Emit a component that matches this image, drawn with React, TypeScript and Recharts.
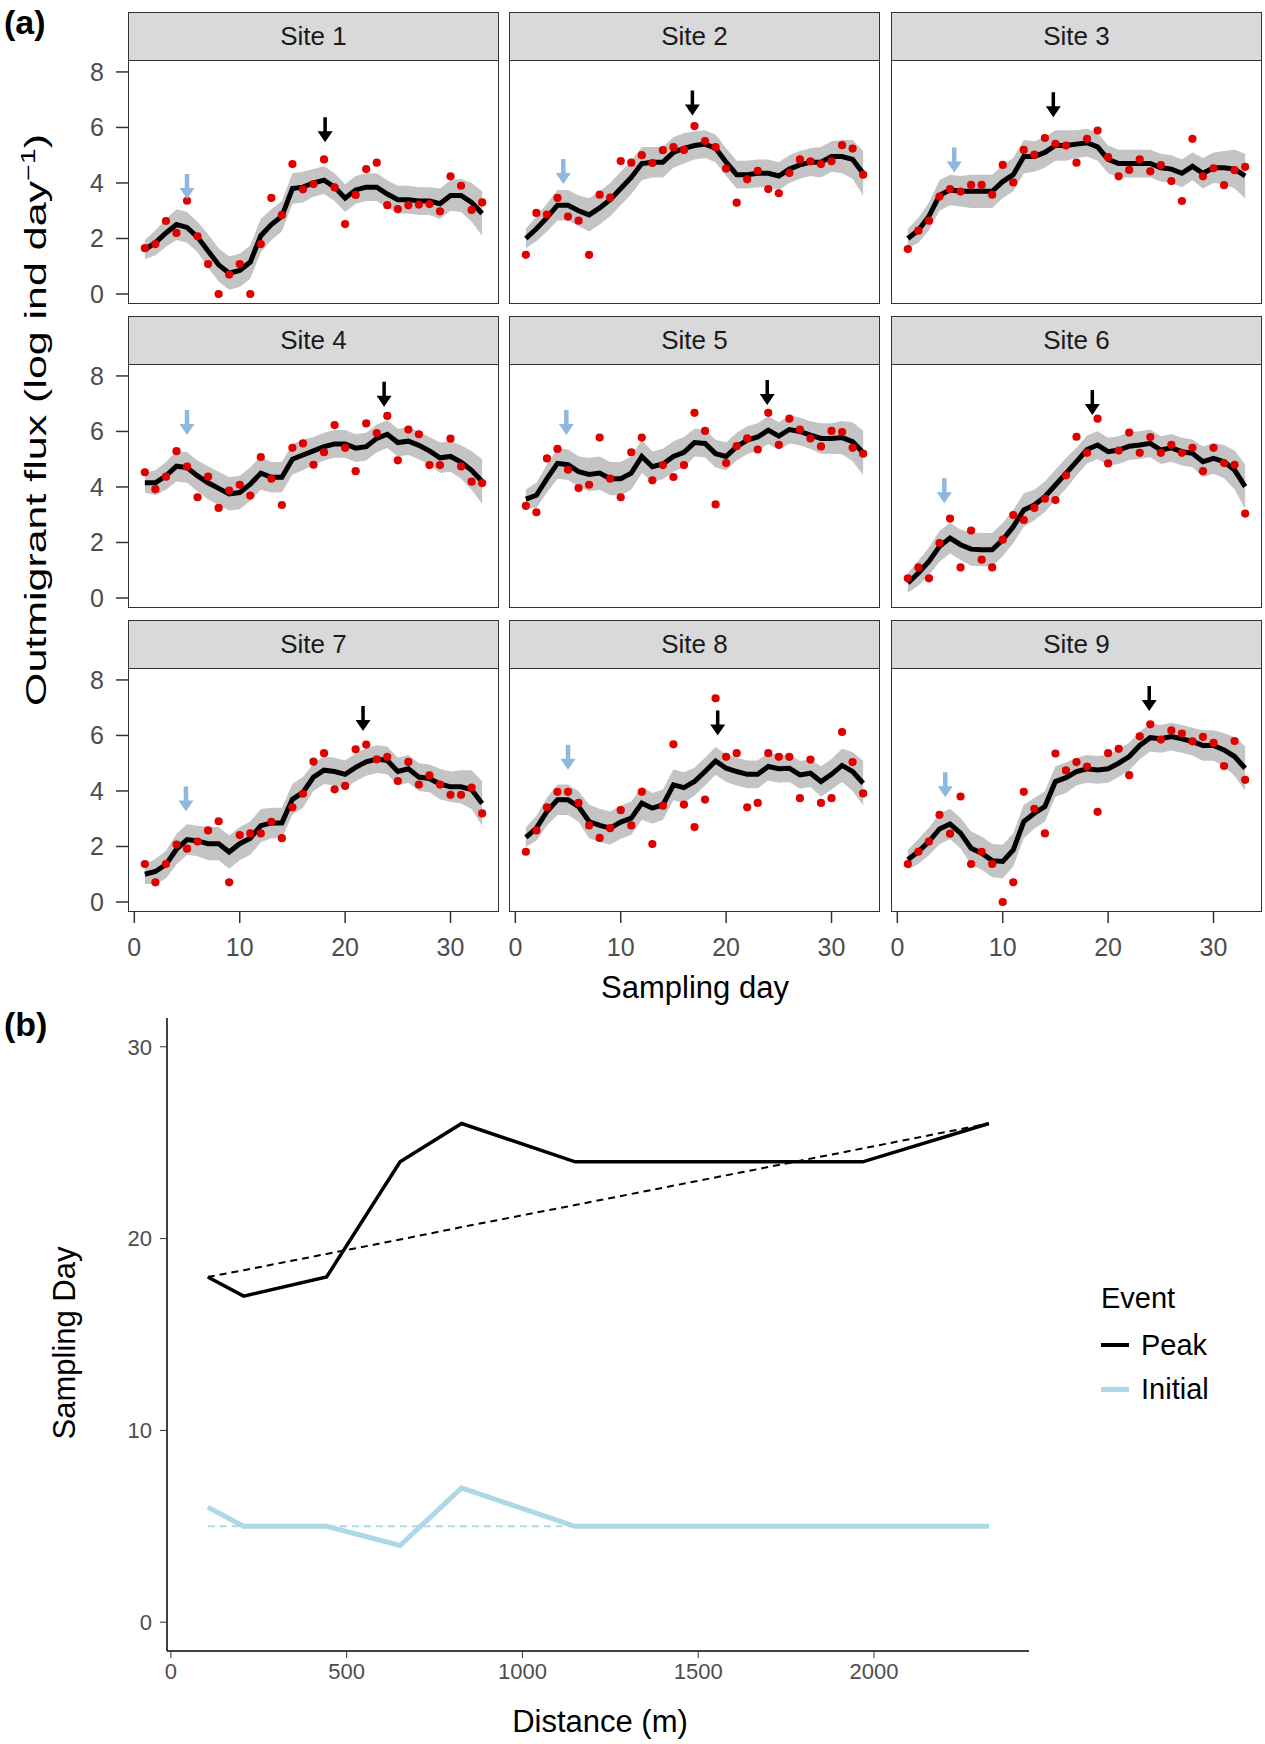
import React from 'react';
import { ComposedChart, LineChart, Area, Line, Scatter, XAxis, YAxis } from 'recharts';

const FONT = '"Liberation Sans", Arial, Helvetica, sans-serif';

// ---------- panel (a): outmigrant flux by site ----------
const days = [1, 2, 3, 4, 5, 6, 7, 8, 9, 10, 11, 12, 13, 14, 15, 16, 17, 18, 19, 20, 21, 22, 23, 24, 25, 26, 27, 28, 29, 30, 31, 32, 33];

// half width of the grey confidence band around the fitted line
const bandHalf = [0.35, 0.45, 0.5, 0.55, 0.55, 0.55, 0.6, 0.6, 0.6, 0.6, 0.6, 0.6, 0.55, 0.55, 0.55, 0.55, 0.5, 0.5, 0.5, 0.5, 0.5, 0.5, 0.5, 0.5, 0.5, 0.5, 0.5, 0.5, 0.55, 0.55, 0.6, 0.7, 0.8];

const siteNames = ['Site 1', 'Site 2', 'Site 3', 'Site 4', 'Site 5', 'Site 6', 'Site 7', 'Site 8', 'Site 9'];

const site1Obs = [1.65, 1.8, 2.63, 2.2, 3.36, 2.08, 1.08, 0, 0.7, 1.08, 0, 1.8, 3.46, 2.85, 4.68, 3.77, 3.96, 4.85, 3.84, 2.52, 3.57, 4.5, 4.73, 3.2, 3.06, 3.2, 3.22, 3.24, 2.98, 4.24, 3.9, 3.03, 3.3];
const site2Obs = [1.41, 2.92, 2.86, 3.46, 2.79, 2.64, 1.41, 3.58, 3.47, 4.79, 4.73, 5.0, 4.72, 5.18, 5.29, 5.19, 6.05, 5.51, 5.29, 4.52, 3.29, 4.13, 4.44, 3.78, 3.63, 4.36, 4.85, 4.78, 4.68, 4.78, 5.36, 5.24, 4.3];
const site3Obs = [1.62, 2.28, 2.64, 3.51, 3.78, 3.69, 3.93, 3.93, 3.58, 4.65, 4.02, 5.19, 5.02, 5.62, 5.41, 5.35, 4.73, 5.59, 5.89, 4.93, 4.24, 4.47, 4.85, 4.42, 4.64, 4.07, 3.35, 5.59, 4.24, 4.53, 3.92, 4.46, 4.58];
const site4Obs = [4.53, 3.92, 4.37, 5.29, 4.73, 3.63, 4.37, 3.25, 3.87, 4.08, 3.69, 5.08, 4.3, 3.35, 5.41, 5.57, 4.8, 5.25, 6.23, 5.41, 4.57, 6.29, 5.94, 6.56, 4.96, 6.07, 5.9, 4.79, 4.79, 5.74, 4.74, 4.19, 4.14];
const site5Obs = [3.32, 3.09, 5.03, 5.37, 4.62, 3.96, 4.08, 5.78, 4.3, 3.63, 5.25, 5.78, 4.24, 4.79, 4.36, 4.79, 6.67, 6.02, 3.37, 4.86, 5.47, 5.75, 5.35, 6.67, 5.52, 6.46, 6.07, 5.75, 5.46, 6.02, 5.98, 5.41, 5.2];
const site6Obs = [0.71, 1.1, 0.71, 1.98, 2.86, 1.1, 2.43, 1.38, 1.1, 2.1, 2.99, 2.81, 3.25, 3.58, 3.53, 4.42, 5.81, 5.23, 6.46, 4.85, 5.31, 5.96, 5.23, 5.8, 5.23, 5.52, 5.23, 5.41, 4.57, 5.41, 4.86, 4.8, 3.04];
const site7Obs = [1.37, 0.71, 1.37, 2.07, 1.92, 2.18, 2.58, 2.91, 0.71, 2.41, 2.47, 2.47, 2.89, 2.3, 3.41, 3.9, 5.06, 5.36, 4.06, 4.18, 5.5, 5.67, 5.14, 5.23, 4.36, 5.05, 4.23, 4.56, 4.23, 3.86, 3.86, 4.12, 3.19];
const site8Obs = [1.81, 2.58, 3.41, 3.97, 3.97, 3.57, 2.76, 2.31, 2.66, 3.31, 2.76, 3.97, 2.09, 3.47, 5.68, 3.51, 2.7, 3.69, 7.34, 5.23, 5.36, 3.41, 3.57, 5.36, 5.23, 5.23, 3.74, 5.13, 3.57, 3.74, 6.12, 5.04, 3.91];
const site9Obs = [1.37, 1.81, 2.18, 3.14, 2.46, 3.8, 1.37, 1.81, 1.37, 0.0, 0.71, 3.97, 3.36, 2.47, 5.35, 4.74, 5.04, 4.88, 3.25, 5.36, 5.52, 4.57, 5.97, 6.4, 5.85, 6.18, 6.07, 5.79, 5.95, 5.73, 4.9, 5.8, 4.4];

const site1Fit = [1.6, 1.85, 2.2, 2.5, 2.4, 2.05, 1.55, 1.05, 0.75, 0.85, 1.15, 2.1, 2.5, 2.8, 3.8, 3.85, 4.0, 4.1, 3.85, 3.45, 3.75, 3.85, 3.85, 3.6, 3.4, 3.4, 3.35, 3.35, 3.25, 3.55, 3.55, 3.3, 2.9];
const site2Fit = [2.0, 2.35, 2.75, 3.2, 3.2, 3.0, 2.85, 3.1, 3.4, 3.8, 4.2, 4.7, 4.75, 4.75, 5.1, 5.25, 5.35, 5.4, 5.25, 4.75, 4.3, 4.3, 4.35, 4.35, 4.25, 4.5, 4.65, 4.75, 4.75, 4.95, 4.95, 4.85, 4.35];
const site3Fit = [2.0, 2.3, 2.8, 3.55, 3.75, 3.7, 3.7, 3.7, 3.7, 4.05, 4.3, 4.95, 4.95, 5.1, 5.35, 5.35, 5.4, 5.45, 5.3, 4.85, 4.7, 4.7, 4.7, 4.7, 4.55, 4.5, 4.35, 4.6, 4.35, 4.55, 4.55, 4.5, 4.25];
const site4Fit = [4.15, 4.15, 4.4, 4.75, 4.7, 4.4, 4.15, 3.95, 3.75, 3.8, 4.1, 4.5, 4.35, 4.35, 5.0, 5.15, 5.3, 5.45, 5.55, 5.55, 5.4, 5.45, 5.75, 5.9, 5.6, 5.65, 5.5, 5.3, 5.05, 5.1, 4.9, 4.6, 4.2];
const site5Fit = [3.56, 3.7, 4.3, 4.85, 4.8, 4.55, 4.45, 4.5, 4.3, 4.3, 4.5, 5.1, 4.73, 4.83, 5.1, 5.25, 5.6, 5.57, 5.2, 5.1, 5.45, 5.69, 5.8, 6.05, 5.83, 6.07, 6.0, 5.87, 5.75, 5.75, 5.78, 5.63, 5.23];
const site6Fit = [0.54, 0.9, 1.32, 1.86, 2.16, 1.92, 1.76, 1.74, 1.74, 2.1, 2.57, 3.17, 3.35, 3.65, 4.07, 4.49, 4.91, 5.35, 5.51, 5.27, 5.33, 5.47, 5.51, 5.57, 5.33, 5.41, 5.27, 5.21, 4.91, 5.03, 4.91, 4.61, 4.01];
const site7Fit = [1.0, 1.1, 1.35, 1.9, 2.25, 2.2, 2.1, 2.1, 1.8, 2.1, 2.3, 2.75, 2.85, 2.85, 3.7, 3.95, 4.5, 4.75, 4.7, 4.6, 4.85, 5.05, 5.15, 5.1, 4.7, 4.8, 4.5, 4.45, 4.25, 4.15, 4.15, 4.05, 3.55];
const site8Fit = [2.33, 2.66, 3.26, 3.68, 3.68, 3.44, 2.9, 2.76, 2.66, 2.88, 3.02, 3.56, 3.38, 3.5, 4.22, 4.12, 4.34, 4.7, 5.08, 4.82, 4.7, 4.6, 4.6, 4.88, 4.8, 4.82, 4.58, 4.64, 4.34, 4.6, 4.92, 4.7, 4.28];
const site9Fit = [1.52, 1.82, 2.18, 2.63, 2.81, 2.48, 1.94, 1.76, 1.49, 1.46, 1.88, 2.9, 3.2, 3.44, 4.34, 4.48, 4.7, 4.8, 4.76, 4.8, 5.0, 5.24, 5.64, 5.92, 5.88, 5.96, 5.88, 5.78, 5.64, 5.64, 5.48, 5.24, 4.82];

const siteObs = [site1Obs, site2Obs, site3Obs, site4Obs, site5Obs, site6Obs, site7Obs, site8Obs, site9Obs];
const siteFit = [site1Fit, site2Fit, site3Fit, site4Fit, site5Fit, site6Fit, site7Fit, site8Fit, site9Fit];

// arrows: day and the flux value at the arrow tip
const initialArrowDay = [5.0, 4.55, 5.4, 5.0, 4.84, 4.46, 4.9, 5.0, 4.55];
const initialArrowTip = [3.42, 3.96, 4.38, 5.87, 5.87, 3.41, 3.26, 4.76, 3.77];
const peakArrowDay = [18.1, 16.8, 14.8, 23.7, 23.9, 18.5, 21.7, 19.2, 23.9];
const peakArrowTip = [5.47, 6.43, 6.37, 6.89, 6.95, 6.59, 6.16, 6.0, 6.88];

const fluxTicks = [0, 2, 4, 6, 8];
const dayTicks = [0, 10, 20, 30];

// ---------- panel (b): event timing vs distance ----------
const distance = [105, 207, 443, 652, 827, 1150, 1968, 2327];
const peakDay = [18, 17, 18, 24, 26, 24, 24, 26];
const initialDay = [6, 5, 5, 4, 7, 5, 5, 5];
const peakTrend = [18.0, 18.35, 19.2, 19.95, 20.6, 21.75, 24.7, 26.0];
const initialTrend = [5, 5, 5, 5, 5, 5, 5, 5];
const distTicks = [0, 500, 1000, 1500, 2000];
const sampTicks = [0, 10, 20, 30];

// layout of the facet grid
const PLOT_W = 371;
const PLOT_H = 244;
const STRIP_H = 48;
const Y_W = 60;
const X_H = 60;
const PAD = 14; // extra room above/below the plot so tick labels are not clipped
const COL_LEFT = [128, 509, 891];
const ROW_TOP = [12, 316, 620];

const RED = '#E00000';
const BLUE = '#8FB8E0';

const dot = (p: any) => (p.cx == null ? <g /> : <circle cx={p.cx} cy={p.cy} r={4.1} fill={RED} />);

const makeArrow = (color: string, shaft: number) => (p: any) => {
  const { cx, cy } = p;
  if (cx == null || cy == null) return <g />;
  const h = shaft / 2;
  const d = `M${cx - h},${cy - 25} L${cx + h},${cy - 25} L${cx + h},${cy - 11} L${cx + 7.5},${cy - 11} L${cx},${cy} L${cx - 7.5},${cy - 11} L${cx - h},${cy - 11} Z`;
  return <path d={d} fill={color} />;
};
const blueArrow = makeArrow(BLUE, 4.5);
const blackArrow = makeArrow('#000', 3.5);

function SitePanel({ idx }: { idx: number }) {
  const col = idx % 3;
  const row = Math.floor(idx / 3);
  const showY = col === 0;
  const showX = row === 2;
  const left = COL_LEFT[col];
  const top = ROW_TOP[row];

  const data = days.map((d, i) => ({
    day: d,
    fit: siteFit[idx][i],
    band: [siteFit[idx][i] - bandHalf[i], siteFit[idx][i] + bandHalf[i]],
  }));
  const obs = days.map((d, i) => ({ day: d, obs: siteObs[idx][i] }));
  const initArrow = [{ day: initialArrowDay[idx], tip: initialArrowTip[idx] }];
  const peakArrow = [{ day: peakArrowDay[idx], tip: peakArrowTip[idx] }];

  return (
    <>
      <div
        style={{
          position: 'absolute', left, top, width: PLOT_W, height: STRIP_H + 1,
          boxSizing: 'border-box', background: '#D9D9D9', border: '1.5px solid #333',
          display: 'flex', alignItems: 'center', justifyContent: 'center',
          fontSize: 26, color: '#1A1A1A',
        }}
      >
        {siteNames[idx]}
      </div>
      <div style={{ position: 'absolute', left: left - (showY ? Y_W : 0), top: top + STRIP_H - PAD }}>
        <ComposedChart
          width={PLOT_W + (showY ? Y_W : 0)}
          height={PLOT_H + 2 * PAD + (showX ? X_H : 0)}
          data={data}
          margin={{ top: PAD, right: 0, bottom: PAD, left: 0 }}
        >
          <XAxis
            type="number" dataKey="day" domain={[-0.6, 34.6]} ticks={dayTicks} allowDataOverflow interval={0}
            hide={!showX} height={X_H} axisLine={false}
            tickLine={{ stroke: '#333', strokeWidth: 1.5 }} tickSize={11} tickMargin={15}
            tick={{ fill: '#4D4D4D', fontSize: 25, fontFamily: FONT }}
          />
          <YAxis
            type="number" domain={[-0.36, 8.43]} ticks={fluxTicks} allowDataOverflow interval={0}
            hide={!showY} width={Y_W} axisLine={false}
            tickLine={{ stroke: '#333', strokeWidth: 1.5 }} tickSize={12} tickMargin={12}
            tick={{ fill: '#4D4D4D', fontSize: 25, fontFamily: FONT }}
          />
          <Area type="linear" dataKey="band" stroke="none" fill="#C4C4C4" fillOpacity={1} isAnimationActive={false} />
          <Line type="linear" dataKey="fit" stroke="#000" strokeWidth={5} dot={false} isAnimationActive={false} />
          <Scatter data={obs} dataKey="obs" shape={dot} isAnimationActive={false} />
          <Scatter data={initArrow} dataKey="tip" shape={blueArrow} isAnimationActive={false} />
          <Scatter data={peakArrow} dataKey="tip" shape={blackArrow} isAnimationActive={false} />
        </ComposedChart>
      </div>
      <div
        style={{
          position: 'absolute', left, top: top + STRIP_H, width: PLOT_W, height: PLOT_H,
          boxSizing: 'border-box', border: '1.5px solid #333', pointerEvents: 'none',
        }}
      />
    </>
  );
}

function TimingPanel() {
  const data = distance.map((x, i) => ({
    dist: x,
    peak: peakDay[i],
    initial: initialDay[i],
    peakFit: peakTrend[i],
    initialFit: initialTrend[i],
  }));
  return (
    <div style={{ position: 'absolute', left: 0, top: 1000 }}>
      <LineChart width={1265} height={744} data={data} margin={{ top: 18, right: 236, bottom: 43, left: 97 }}>
        <XAxis
          type="number" dataKey="dist" domain={[-11, 2441]} ticks={distTicks} allowDataOverflow interval={0} height={50}
          axisLine={{ stroke: '#000', strokeWidth: 1.5 }} tickLine={{ stroke: '#333' }} tickSize={7} tickMargin={5}
          tick={{ fill: '#4D4D4D', fontSize: 22, fontFamily: FONT }}
        />
        <YAxis
          type="number" domain={[-1.5, 31.5]} ticks={sampTicks} allowDataOverflow interval={0} width={70}
          axisLine={{ stroke: '#000', strokeWidth: 1.5 }} tickLine={{ stroke: '#333' }} tickSize={7} tickMargin={8}
          tick={{ fill: '#4D4D4D', fontSize: 22, fontFamily: FONT }}
        />
        <Line type="linear" dataKey="peak" name="Peak" stroke="#000" strokeWidth={3.5} dot={false} isAnimationActive={false} />
        <Line type="linear" dataKey="initial" name="Initial" stroke="#ADD8E6" strokeWidth={5} dot={false} isAnimationActive={false} />
        <Line type="linear" dataKey="peakFit" stroke="#000" strokeWidth={2} strokeDasharray="7 5" dot={false} legendType="none" isAnimationActive={false} />
        <Line type="linear" dataKey="initialFit" stroke="#ADD8E6" strokeWidth={2} strokeDasharray="7 5" dot={false} legendType="none" isAnimationActive={false} />
      </LineChart>
    </div>
  );
}

const legendItems = [
  { label: 'Peak', color: '#000', width: 4 },
  { label: 'Initial', color: '#ADD8E6', width: 5 },
];

export default function App() {
  return (
    <div style={{ position: 'absolute', left: 0, top: 0, width: 1265, height: 1744, background: '#fff', fontFamily: FONT, overflow: 'hidden' }}>
      <div style={{ position: 'absolute', left: 4, top: 5, fontSize: 34, fontWeight: 'bold', lineHeight: 1 }}>(a)</div>
      <div style={{ position: 'absolute', left: 4, top: 1007, fontSize: 34, fontWeight: 'bold', lineHeight: 1 }}>(b)</div>

      {siteNames.map((_, i) => (
        <SitePanel key={i} idx={i} />
      ))}

      <svg width={80} height={1000} style={{ position: 'absolute', left: 0, top: 0 }}>
        <text
          transform="translate(46,420) rotate(-90)" textAnchor="middle" fontSize={30} fill="#000" fontFamily={FONT}
          textLength={572} lengthAdjust="spacingAndGlyphs"
        >
          Outmigrant flux (log ind day<tspan dy={-11} fontSize={20}>−1</tspan><tspan dy={11}>)</tspan>
        </text>
      </svg>
      <div style={{ position: 'absolute', left: 495, width: 400, top: 972, textAlign: 'center', fontSize: 31, lineHeight: 1 }}>
        Sampling day
      </div>

      <TimingPanel />

      <svg width={100} height={744} style={{ position: 'absolute', left: 0, top: 1000 }}>
        <text transform="translate(75,343) rotate(-90)" textAnchor="middle" fontSize={31} fill="#000" fontFamily={FONT}>
          Sampling Day
        </text>
      </svg>
      <div style={{ position: 'absolute', left: 400, width: 400, top: 1706, textAlign: 'center', fontSize: 31, lineHeight: 1 }}>
        Distance (m)
      </div>

      <div style={{ position: 'absolute', left: 1101, top: 1284, fontSize: 29, lineHeight: 1 }}>Event</div>
      {legendItems.map((it, i) => (
        <div key={it.label} style={{ position: 'absolute', left: 1101, top: 1330 + i * 44, display: 'flex', alignItems: 'center', height: 30 }}>
          <div style={{ width: 28, height: it.width, background: it.color }} />
          <div style={{ marginLeft: 12, fontSize: 29, lineHeight: 1 }}>{it.label}</div>
        </div>
      ))}
    </div>
  );
}
